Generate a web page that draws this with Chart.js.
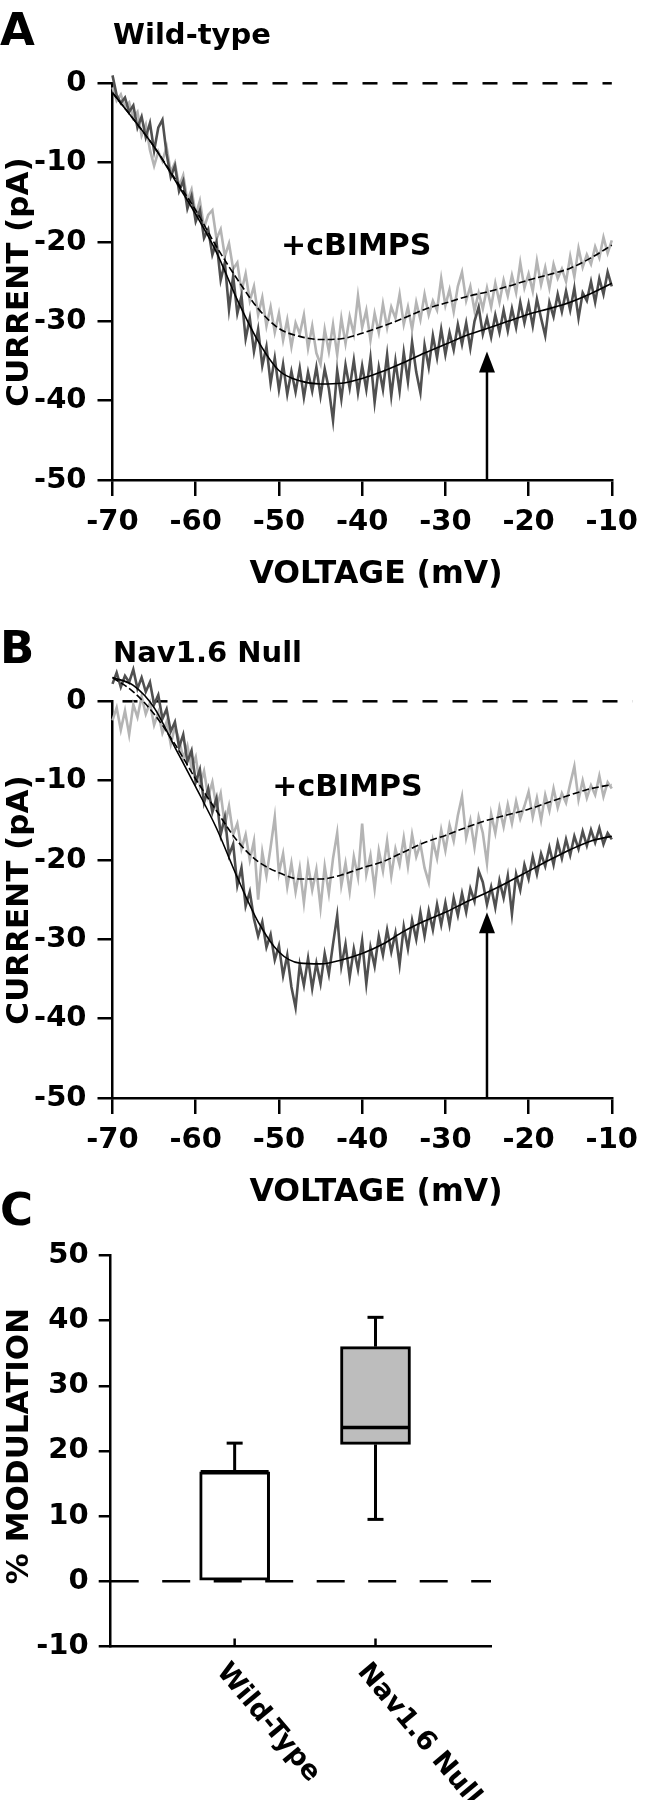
<!DOCTYPE html>
<html lang="en">
<head>
<meta charset="utf-8">
<title>cBIMPS modulation of persistent sodium current</title>
<script src="https://cdn.jsdelivr.net/npm/chart.js@4.4.1/dist/chart.umd.min.js"></script>
<style>
  body { margin: 0; background: #fff; }
  #figure { position: relative; width: 647px; height: 1800px; font-family: 'DejaVu Sans', sans-serif; font-weight: bold; color: #000; }
  #figure canvas { position: absolute; left: 0; }
  .label { position: absolute; white-space: nowrap; line-height: 1; }
  .panel-letter { font-size: 45px; }
  .panel-title { font-size: 29px; }
  .x-title { font-size: 31.5px; transform: translate(-50%, -50%); }
  .y-title { font-size: 31px; transform: translate(-50%, -50%) rotate(-90deg); }
</style>
</head>
<body>
<div id="figure">
  <canvas id="panelA" width="647" height="600" style="top:0"></canvas>
  <canvas id="panelB" width="647" height="600" style="top:618px"></canvas>
  <canvas id="panelC" width="647" height="600" style="top:1200px"></canvas>

  <div class="label panel-letter" style="left:0;top:7px">A</div>
  <div class="label panel-title" style="left:113px;top:20px">Wild-type</div>
  <div class="label y-title" style="left:17px;top:282px">CURRENT (pA)</div>
  <div class="label x-title" style="left:376px;top:573px">VOLTAGE (mV)</div>

  <div class="label panel-letter" style="left:0;top:625px">B</div>
  <div class="label panel-title" style="left:113px;top:638px">Nav1.6 Null</div>
  <div class="label y-title" style="left:17px;top:900px">CURRENT (pA)</div>
  <div class="label x-title" style="left:376px;top:1191px">VOLTAGE (mV)</div>

  <div class="label panel-letter" style="left:0;top:1187px">C</div>
  <div class="label y-title" style="left:17px;top:1446px">% MODULATION</div>
</div>
<script>
// ramp recordings, one sample every 0.5 mV from -70 to -10 mV
const rampStart = -70;
const rampStep = 0.5;

// A - wild-type, control (dark) and +cBIMPS (light)
const wtControl = [
  1.0, -1.5, -2.5, -1.8, -3.6, -2.8, -5.6, -4.2, -6.8, -5.0,
  -8.5, -5.6, -4.6, -8.9, -11.8, -10.4, -13.6, -12.3, -15.8, -14.2,
  -17.4, -16.0, -19.5, -18.4, -21.6, -20.0, -24.8, -22.6, -28.5, -24.3,
  -29.0, -26.8, -32.2, -29.6, -33.8, -31.0, -35.6, -33.2, -37.8, -34.6,
  -38.6, -35.4, -39.2, -36.3, -38.9, -35.9, -39.6, -36.4, -38.8, -35.8,
  -39.4, -36.0, -38.5, -42.5, -36.2, -39.8, -35.5, -38.4, -34.9, -39.0,
  -35.6, -38.6, -34.6, -40.2, -35.8, -38.6, -34.2, -39.4, -35.0, -38.8,
  -33.9, -37.6, -32.6, -36.4, -39.0, -33.0, -35.8, -31.8, -34.6, -31.0,
  -34.2, -31.4, -33.6, -30.4, -32.9, -30.2, -33.4, -30.0, -28.2, -31.6,
  -29.6, -32.0, -29.2, -31.4, -28.6, -31.2, -28.4, -30.8, -27.6, -30.2,
  -27.8, -30.6, -27.2, -29.6, -31.8, -27.6, -29.4, -26.6, -28.8, -26.2,
  -28.6, -25.8, -29.6, -26.4, -27.4, -25.0, -27.6, -24.6, -26.6, -23.8,
  -25.6
];
const wtCbimps = [
  -0.5, -2.2, -1.4, -3.0, -2.4, -4.4, -3.6, -6.6, -5.2, -8.4,
  -10.4, -8.6, -9.8, -8.0, -11.2, -10.0, -13.0, -11.6, -14.8, -13.4,
  -16.6, -14.8, -18.2, -16.6, -16.0, -19.6, -18.4, -21.8, -20.2, -23.4,
  -22.6, -26.2, -24.0, -27.4, -25.6, -29.2, -27.0, -30.6, -28.2, -31.4,
  -29.0, -32.4, -29.8, -33.2, -30.2, -31.6, -29.2, -33.4, -30.6, -34.0,
  -35.4, -31.0, -33.8, -30.4, -34.2, -29.6, -32.8, -29.4, -31.6, -26.8,
  -30.8, -28.6, -32.4, -29.0, -31.4, -27.8, -30.8, -28.2, -29.6, -26.6,
  -30.4, -28.2, -31.0, -27.6, -29.8, -26.6, -29.2, -27.4, -28.6, -24.6,
  -28.0, -26.0, -28.8, -25.6, -23.8, -27.4, -25.6, -28.6, -26.4, -28.4,
  -25.8, -28.2, -25.2, -27.6, -24.8, -26.8, -24.2, -26.4, -22.6, -25.8,
  -24.0, -26.2, -22.4, -25.4, -23.2, -25.8, -22.8, -24.6, -23.4, -25.0,
  -21.8, -24.4, -20.8, -23.2, -21.6, -22.8, -20.6, -22.0, -19.4, -21.4,
  -19.8
];

// B - Nav1.6 null, control (dark) and +cBIMPS (light)
const nullControl = [
  2.2, 3.6, 1.8, 3.2, 2.4, 4.0, 1.6, 3.0, 1.2, 2.4,
  -0.4, 0.8, -2.2, -1.0, -3.8, -2.6, -5.8, -4.2, -7.6, -6.2,
  -10.2, -8.6, -12.8, -11.0, -14.0, -12.2, -16.8, -14.6, -19.4, -18.0,
  -23.2, -21.0, -25.8, -24.0, -27.4, -29.6, -27.8, -31.0, -29.4, -32.6,
  -30.8, -34.6, -32.0, -36.0, -38.6, -33.2, -35.8, -32.4, -36.2, -33.0,
  -35.6, -31.8, -34.4, -30.6, -27.0, -33.4, -30.6, -34.8, -31.2, -33.8,
  -30.2, -35.6, -31.0, -33.4, -29.6, -32.0, -28.8, -31.6, -29.2, -33.2,
  -28.4, -31.2, -27.6, -30.0, -26.6, -29.6, -26.4, -28.8, -25.6, -28.2,
  -25.4, -28.2, -24.8, -27.0, -24.2, -26.6, -23.6, -25.2, -21.4, -22.8,
  -25.6, -23.4, -26.0, -22.6, -24.8, -22.0, -26.8, -21.8, -23.8, -20.6,
  -22.4, -19.6, -21.8, -19.2, -20.8, -18.4, -20.6, -17.8, -19.8, -17.4,
  -19.4, -17.0, -18.6, -16.4, -18.2, -16.2, -17.8, -16.0, -18.0, -16.6,
  -17.4
];
const nullCbimps = [
  -2.4, -0.8, -3.6, -1.2, -4.2, -0.4, -2.0, 0.6, -1.6, -0.2,
  -3.0, -1.4, -4.0, -2.6, -5.4, -3.2, -4.8, -7.2, -5.6, -8.4,
  -7.0, -10.6, -8.8, -12.0, -10.2, -13.4, -11.6, -15.6, -13.2, -16.8,
  -15.4, -18.6, -16.8, -20.0, -17.6, -25.0, -19.0, -22.0, -18.4, -14.6,
  -21.6, -19.2, -23.4, -20.4, -24.0, -21.0, -25.4, -20.6, -23.8, -21.2,
  -26.0, -20.8, -24.2, -19.8, -16.6, -23.2, -20.4, -24.0, -19.6, -22.2,
  -15.4, -21.8, -19.4, -23.6, -18.8, -21.4, -17.6, -22.0, -18.6, -20.6,
  -17.2, -20.8, -16.8, -19.6, -18.0, -21.0, -22.8, -17.6, -19.8, -16.2,
  -18.8, -15.6, -17.6, -14.4, -12.0, -17.2, -15.0, -18.4, -14.6, -16.6,
  -20.4, -14.2, -16.6, -13.4, -15.8, -13.0, -15.4, -12.6, -14.8, -13.2,
  -11.4, -14.6, -12.2, -15.0, -11.8, -13.8, -11.0, -13.4, -11.6, -12.8,
  -10.4, -8.2, -12.4, -10.0, -12.2, -10.6, -11.8, -9.4, -12.0, -10.2,
  -11.0
];

// fitted curves
const fitVoltages = [-70, -67.5, -65, -62.5, -60, -57.5, -55, -52.5, -50, -47.5, -45, -42.5,
  -40, -37.5, -35, -32.5, -30, -27.5, -25, -22.5, -20, -17.5, -15, -12.5, -10];
const wtControlFit = [-1.2, -4.5, -8.0, -12.2, -16.5, -21.3, -27.3, -32.5, -36.2, -37.5, -37.9, -37.8,
  -37.2, -36.3, -35.2, -34.0, -32.9, -31.8, -30.9, -30.0, -29.1, -28.4, -27.6, -26.5, -25.2];
const wtCbimpsFit = [-1.2, -4.5, -8.0, -12.0, -16.0, -20.6, -24.7, -28.4, -30.9, -31.9, -32.3, -32.2,
  -31.5, -30.6, -29.6, -28.5, -27.7, -26.9, -26.3, -25.6, -24.8, -24.1, -23.3, -22.0, -20.4];
const nullControlFit = [3.0, 2.0, -0.8, -5.8, -10.8, -16.0, -22.2, -27.8, -31.6, -33.0, -33.1, -32.6,
  -31.8, -30.6, -29.0, -27.7, -26.6, -25.3, -24.1, -22.8, -21.4, -20.0, -18.7, -17.6, -17.0];
const nullCbimpsFit = [3.0, 1.2, -1.6, -5.4, -9.8, -13.8, -17.6, -20.2, -21.6, -22.4, -22.4, -21.9,
  -21.0, -20.2, -19.0, -17.8, -16.9, -15.9, -15.0, -14.3, -13.6, -12.7, -11.8, -11.0, -10.5];

// arrow at -25 mV and the "+cBIMPS" tag [mV, pA]
const arrowVoltage = -25;
const wtArrowTip = -33.8;
const nullArrowTip = -26.6;
const wtTagAt = [-49.75, -20.6];
const nullTagAt = [-50.8, -11.0];
const zeroLineA = [-70, -10];
const zeroLineB = [-70, -7.5];

// C - % modulation
const groups = ['Wild-Type', 'Nav1.6 Null'];
const groupPositions = [1, 2];
const groupRange = [0.12, 2.82];
const boxLow = [0, 21];
const boxHigh = [16.8, 36];
const medians = [16.8, 23.6];
const whiskerLow = [null, 9.5];
const whiskerHigh = [21.2, 40.5];

Chart.defaults.font.family = "'DejaVu Sans', sans-serif";
Chart.defaults.font.weight = 'bold';
Chart.defaults.color = '#000';
Chart.defaults.animation = false;

const ramp = values => values.map((v, i) => ({ x: rampStart + i * rampStep, y: v }));
const fitted = values => values.map((v, i) => ({ x: fitVoltages[i], y: v }));

const axisLine = { color: '#000', width: 2.5 };
const tickMarks = len => ({ drawOnChartArea: false, tickLength: len, color: '#000', lineWidth: 2.5 });

// arrow + "+cBIMPS" label, placed through the scales
const ivMarks = {
  id: 'ivMarks',
  afterDatasetsDraw(chart, args, opts) {
    const { ctx, scales: { x, y } } = chart;
    const ax = x.getPixelForValue(opts.arrowV);
    const tip = y.getPixelForValue(opts.arrowTip);
    ctx.save();
    ctx.strokeStyle = '#000';
    ctx.fillStyle = '#000';
    ctx.lineWidth = 2.5;
    ctx.beginPath();
    ctx.moveTo(ax, y.getPixelForValue(y.min));
    ctx.lineTo(ax, tip + 18);
    ctx.stroke();
    ctx.beginPath();
    ctx.moveTo(ax, tip);
    ctx.lineTo(ax - 8, tip + 21);
    ctx.lineTo(ax + 8, tip + 21);
    ctx.closePath();
    ctx.fill();
    ctx.font = "bold 30px 'DejaVu Sans'";
    ctx.textBaseline = 'middle';
    ctx.fillText(opts.tag, x.getPixelForValue(opts.tagAt[0]), y.getPixelForValue(opts.tagAt[1]));
    ctx.restore();
  }
};

function ivChart(id, control, cbimps, controlFit, cbimpsFit, zeroLine, arrowTip, tagAt) {
  return new Chart(document.getElementById(id), {
    type: 'line',
    data: {
      datasets: [
        { data: zeroLine.map(v => ({ x: v, y: 0 })), borderColor: '#000', borderWidth: 2.5,
          borderDash: [15, 15], borderDashOffset: 20, order: 4 },
        { data: ramp(cbimps), borderColor: '#b4b4b4', borderWidth: 2.6, order: 3 },
        { data: ramp(control), borderColor: '#505050', borderWidth: 2.6, order: 2 },
        { data: fitted(cbimpsFit), borderColor: '#000', borderWidth: 1.6, borderDash: [7, 3],
          cubicInterpolationMode: 'monotone', order: 1 },
        { data: fitted(controlFit), borderColor: '#000', borderWidth: 1.6,
          cubicInterpolationMode: 'monotone', order: 0 }
      ]
    },
    options: {
      responsive: false,
      layout: { padding: { top: 83.3, right: 35, left: 0, bottom: 0 } },
      datasets: { line: { clip: false, pointRadius: 0, tension: 0 } },
      scales: {
        x: {
          type: 'linear', min: -70, max: -10,
          ticks: { stepSize: 10, padding: 9, font: { size: 29 } },
          grid: tickMarks(16),
          border: axisLine,
          afterFit: s => { s.height = 120; }
        },
        y: {
          min: -50, max: 0,
          ticks: { stepSize: 10, padding: 11, font: { size: 29 } },
          grid: tickMarks(15),
          border: axisLine,
          afterFit: s => { s.width = 112.5; }
        }
      },
      plugins: {
        legend: { display: false },
        tooltip: { enabled: false },
        ivMarks: { arrowV: arrowVoltage, arrowTip: arrowTip, tag: '+cBIMPS', tagAt: tagAt }
      }
    },
    plugins: [ivMarks]
  });
}

ivChart('panelA', wtControl, wtCbimps, wtControlFit, wtCbimpsFit, zeroLineA, wtArrowTip, wtTagAt);
ivChart('panelB', nullControl, nullCbimps, nullControlFit, nullCbimpsFit, zeroLineB, nullArrowTip, nullTagAt);

// whiskers, medians, inward ticks and slanted group names
const boxDetails = {
  id: 'boxDetails',
  afterDatasetsDraw(chart) {
    const { ctx, chartArea, scales: { x, y } } = chart;
    const bars = chart.getDatasetMeta(1).data;
    const line = (x1, y1, x2, y2) => {
      ctx.beginPath();
      ctx.moveTo(x1, y1);
      ctx.lineTo(x2, y2);
      ctx.stroke();
    };
    ctx.save();
    ctx.strokeStyle = '#000';
    ctx.fillStyle = '#000';
    groupPositions.forEach((g, i) => {
      const cx = x.getPixelForValue(g);
      const half = bars[i].width / 2;
      ctx.lineWidth = 3.5;
      line(cx - half + 1, y.getPixelForValue(medians[i]), cx + half - 1, y.getPixelForValue(medians[i]));
      ctx.lineWidth = 3;
      [[boxHigh[i], whiskerHigh[i]], [boxLow[i], whiskerLow[i]]].forEach(([from, to]) => {
        if (to === null) return;
        const yEnd = y.getPixelForValue(to);
        line(cx, y.getPixelForValue(from), cx, yEnd);
        line(cx - 8, yEnd, cx + 8, yEnd);
      });
      ctx.lineWidth = 2.5;
      line(cx, chartArea.bottom, cx, chartArea.bottom - 8);

      ctx.save();
      ctx.translate(cx - 3, chartArea.bottom + 12);
      ctx.rotate(50 * Math.PI / 180);
      ctx.font = "bold 27px 'DejaVu Sans'";
      ctx.textAlign = 'left';
      ctx.textBaseline = 'top';
      ctx.fillText(groups[i], 0, 0);
      ctx.restore();
    });
    ctx.restore();
  }
};

new Chart(document.getElementById('panelC'), {
  type: 'bar',
  data: {
    datasets: [
      { type: 'line', data: groupRange.map(v => ({ x: v, y: 0 })), borderColor: '#000', borderWidth: 2.5,
        borderDash: [28, 23.5], pointRadius: 0, order: 1 },
      { type: 'bar', data: groupPositions.map((g, i) => ({ x: g, y: [boxLow[i], boxHigh[i]] })),
        backgroundColor: ['#ffffff', '#bdbdbd'], borderColor: '#000', borderWidth: 3,
        borderSkipped: false, barThickness: 70, order: 0 }
    ]
  },
  options: {
    responsive: false,
    layout: { padding: { top: 55.4, right: 156, left: 0, bottom: 0 } },
    scales: {
      x: {
        type: 'linear', min: groupRange[0], max: groupRange[1], offset: false,
        ticks: { display: false },
        grid: { display: false },
        border: axisLine,
        afterFit: s => { s.height = 153.5; }
      },
      y: {
        min: -10, max: 50,
        ticks: { stepSize: 10, padding: 10, font: { size: 29 } },
        grid: tickMarks(12),
        border: axisLine,
        afterFit: s => { s.width = 110.7; }
      }
    },
    plugins: {
      legend: { display: false },
      tooltip: { enabled: false }
    }
  },
  plugins: [boxDetails]
});
</script>
</body>
</html>
